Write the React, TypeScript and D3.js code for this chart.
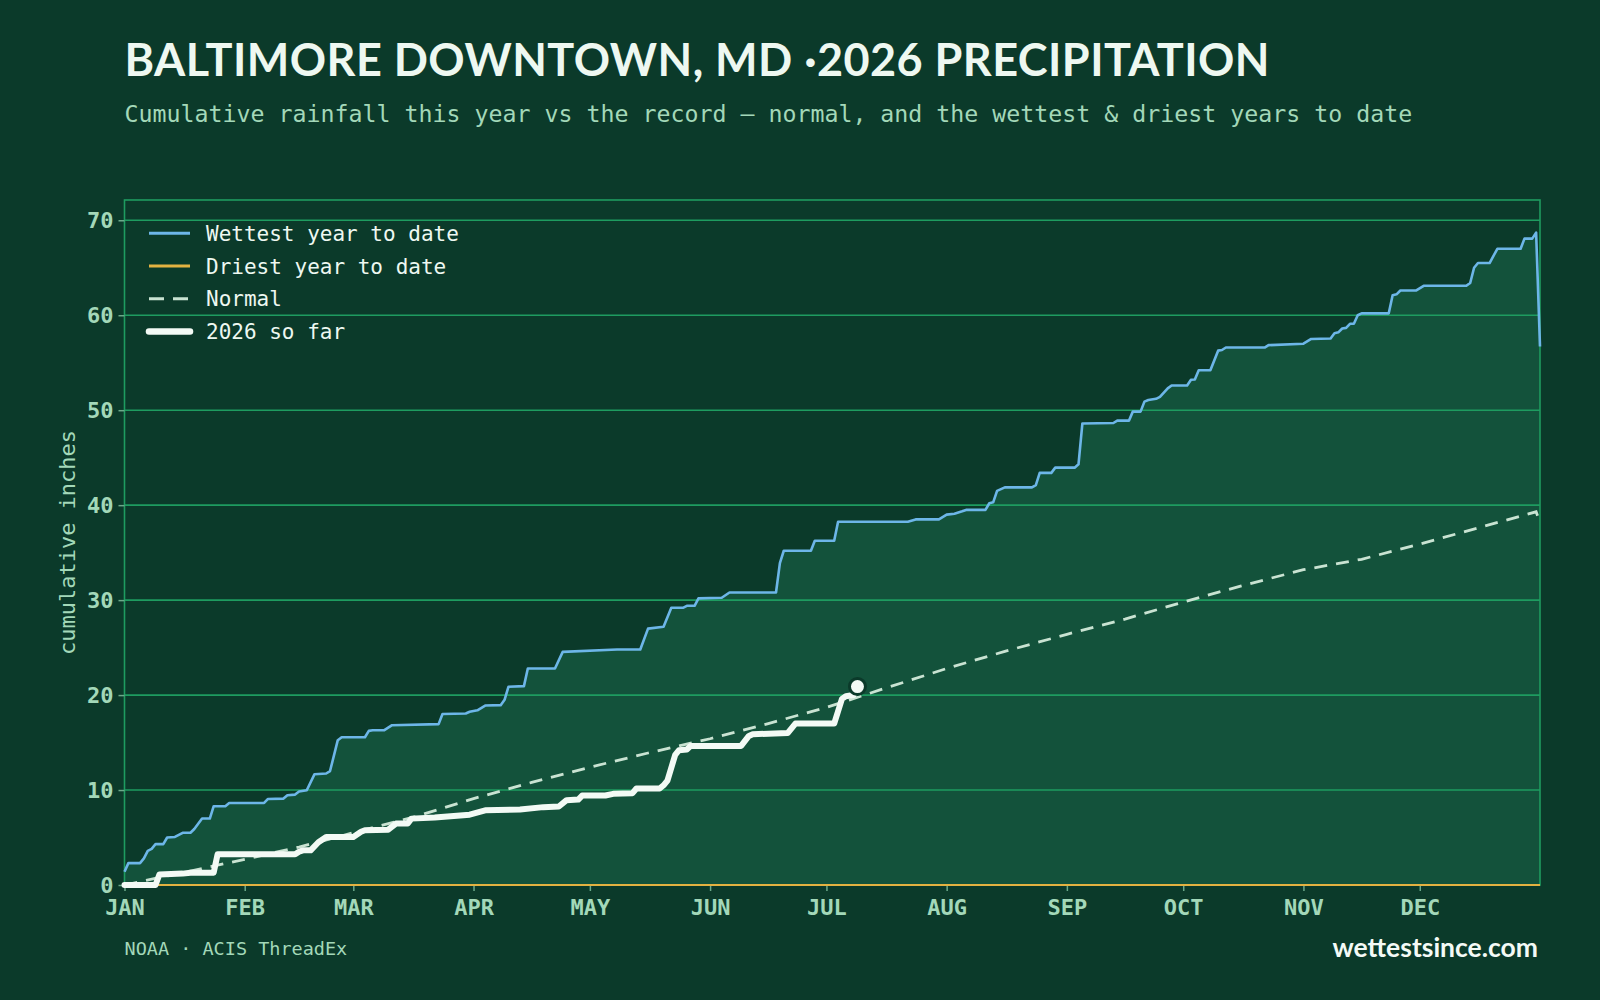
import React, { useRef, useEffect } from 'react';
import * as d3 from 'd3';

const TITLE = 'BALTIMORE DOWNTOWN, MD ·2026 PRECIPITATION';
const SUBTITLE = 'Cumulative rainfall this year vs the record — normal, and the wettest & driest years to date';
const MONTHS = ['JAN', 'FEB', 'MAR', 'APR', 'MAY', 'JUN', 'JUL', 'AUG', 'SEP', 'OCT', 'NOV', 'DEC'];
const Y_TICKS = [0, 10, 20, 30, 40, 50, 60, 70];

// [day of year, cumulative inches]
const wettest: [number, number][] = [
  [0, 1.4], [1, 2.3], [4, 2.3], [5, 2.8], [6, 3.6], [7, 3.8], [8, 4.3], [10, 4.3], [11, 5.0], [13, 5.06],
  [15, 5.5], [17, 5.5], [18, 5.9], [20, 7.0], [22, 7.0], [23, 8.3], [26, 8.3], [27, 8.64], [36, 8.64],
  [37, 9.06], [41, 9.1], [42, 9.45], [44, 9.52], [45, 9.84], [47, 9.98], [49, 11.67], [52, 11.74],
  [53, 12.0], [55, 15.25], [56, 15.56], [62, 15.56], [63, 16.23], [64, 16.3], [67, 16.3], [69, 16.83],
  [81, 16.94], [82, 18.0], [88, 18.06], [89, 18.24], [91, 18.4], [93, 18.9], [97, 18.94], [98, 19.5],
  [99, 20.87], [103, 20.94], [104, 22.8], [111, 22.8], [113, 24.55], [127, 24.8], [133, 24.8], [135, 27.0],
  [139, 27.2], [141, 29.19], [144, 29.19], [145, 29.4], [147, 29.4], [148, 30.18], [154, 30.25],
  [156, 30.8], [168, 30.8], [169, 33.9], [170, 35.2], [177, 35.2], [178, 36.25], [183, 36.25], [184, 38.25],
  [202, 38.25], [204, 38.5], [210, 38.5], [212, 39.0], [214, 39.1], [216, 39.35], [217, 39.5], [222, 39.5],
  [223, 40.2], [224, 40.3], [225, 41.5], [227, 41.87], [234, 41.87], [235, 42.1], [236, 43.4], [239, 43.4],
  [240, 43.95], [245, 43.95], [246, 44.3], [247, 48.6], [255, 48.65], [256, 48.9], [259, 48.9],
  [260, 49.85], [262, 49.85], [263, 50.9], [264, 51.07], [266, 51.2], [267, 51.4], [269, 52.3],
  [270, 52.6], [274, 52.6], [275, 53.2], [276, 53.24], [277, 54.2], [280, 54.2], [282, 56.27],
  [283, 56.34], [284, 56.6], [294, 56.6], [295, 56.85], [304, 57.0], [306, 57.5], [311, 57.55],
  [312, 58.1], [313, 58.2], [314, 58.6], [315, 58.67], [316, 59.1], [317, 59.1], [318, 60.0], [319, 60.2],
  [326, 60.2], [327, 62.1], [328, 62.2], [329, 62.6], [333, 62.6], [335, 63.1], [346, 63.1], [347, 63.4],
  [348, 65.0], [349, 65.5], [352, 65.5], [354, 67.0], [360, 67.0], [361, 68.07], [363, 68.07],
  [364, 68.7], [365, 56.7],
];

const normal: [number, number][] = [
  [0, 0], [15, 1.3], [31, 2.7], [45, 4.0], [59, 5.5], [75, 7.2], [90, 9.1], [105, 10.8], [120, 12.4],
  [135, 13.9], [151, 15.4], [166, 17.0], [181, 18.7], [196, 20.7], [212, 22.8], [227, 24.6], [243, 26.4],
  [258, 28.0], [273, 29.8], [288, 31.5], [304, 33.2], [319, 34.3], [334, 35.9], [349, 37.6], [364, 39.3],
  [365, 38.2],
];

const driest: [number, number][] = [[0, 0], [365, 0]];

const year2026: [number, number][] = [
  [0, 0], [8, 0], [9, 1.1], [15, 1.2], [17, 1.3], [23, 1.3], [24, 3.23], [44, 3.23], [45, 3.5],
  [46, 3.65], [48, 3.65], [50, 4.5], [52, 5.06], [59, 5.06], [61, 5.6], [62, 5.76], [68, 5.83],
  [70, 6.47], [73, 6.47], [74, 6.99], [80, 7.1], [89, 7.4], [93, 7.86], [102, 7.94], [108, 8.2],
  [112, 8.27], [114, 8.93], [117, 9.0], [118, 9.42], [124, 9.42], [126, 9.6], [131, 9.67], [132, 10.16],
  [138, 10.16], [139, 10.5], [140, 11.0], [142, 13.7], [143, 14.2], [145, 14.27], [146, 14.65],
  [159, 14.65], [161, 15.7], [162, 15.88], [171, 16.0], [173, 17.0], [183, 17.0], [185, 19.6],
  [186, 19.88], [188, 20.0], [189, 20.9],
];

const LEGEND = [
  { label: 'Wettest year to date', color: '#6db6e8', width: 3, dash: null },
  { label: 'Driest year to date', color: '#e3b241', width: 3, dash: null },
  { label: 'Normal', color: '#c9e3d2', width: 3, dash: '15 9' },
  { label: '2026 so far', color: '#f3faf5', width: 6.5, dash: null },
];

const BG = '#0b3a2a';
const FILL = '#13523b';
const GRID = '#1e9c60';
const MINT = '#a3d8b9';
const MONO = '"DejaVu Sans Mono", monospace';
const SANS = 'Lato, "Open Sans", sans-serif';

function App() {
  const svgRef = useRef(null);

  useEffect(() => {
    document.body.style.margin = '0';
    const width = 1600, height = 1000;
    const plot = { left: 124.5, top: 200, right: 1540, bottom: 885 };

    const svg = d3.select(svgRef.current);
    svg.selectAll('*').remove();

    svg.append('rect').attr('width', width).attr('height', height).attr('fill', BG);

    svg.append('text')
      .attr('x', plot.left).attr('y', 76)
      .attr('fill', '#eef8f1')
      .style('font-family', SANS).style('font-weight', 700).style('font-size', '45px')
      .style('letter-spacing', '0.45px')
      .text(TITLE);

    svg.append('text')
      .attr('x', plot.left).attr('y', 121.5)
      .attr('fill', MINT)
      .style('font-family', MONO).style('font-size', '23.25px')
      .text(SUBTITLE);

    const yMax = d3.max(wettest, d => d[1]) * 1.05;
    const x = d3.scaleLinear().domain([0, 365]).range([plot.left, plot.right]);
    const y = d3.scaleLinear().domain([0, yMax]).range([plot.bottom, plot.top]);

    // area under the wettest year
    const area = d3.area().x(d => x(d[0])).y0(y(0)).y1(d => y(d[1]));
    svg.append('path').datum(wettest).attr('d', area).attr('fill', FILL);

    // horizontal grid
    svg.append('g').selectAll('line').data(Y_TICKS).enter().append('line')
      .attr('x1', plot.left).attr('x2', plot.right)
      .attr('y1', d => y(d)).attr('y2', d => y(d))
      .attr('stroke', GRID).attr('stroke-width', 1.6);

    svg.append('rect')
      .attr('x', plot.left).attr('y', plot.top)
      .attr('width', plot.right - plot.left).attr('height', plot.bottom - plot.top)
      .attr('fill', 'none').attr('stroke', GRID).attr('stroke-width', 1.6);

    // axes
    const yAxis = svg.append('g')
      .attr('transform', `translate(${plot.left},0)`)
      .call(d3.axisLeft(y).tickValues(Y_TICKS).tickSize(6).tickPadding(5));
    yAxis.select('.domain').remove();
    yAxis.selectAll('line').attr('stroke', '#6aa98a').attr('stroke-width', 1.5);
    yAxis.selectAll('text')
      .attr('fill', MINT)
      .style('font-family', MONO).style('font-weight', 700).style('font-size', '22px');

    const start = new Date(2026, 0, 1);
    const monthDays = d3.timeMonth.range(start, new Date(2027, 0, 1)).map(m => d3.timeDay.count(start, m));
    const xAxis = svg.append('g')
      .attr('transform', `translate(0,${plot.bottom})`)
      .call(d3.axisBottom(x).tickValues(monthDays).tickFormat((d, i) => MONTHS[i]).tickSize(6).tickPadding(8));
    xAxis.select('.domain').remove();
    xAxis.selectAll('line').attr('stroke', '#6aa98a').attr('stroke-width', 1.5);
    xAxis.selectAll('text')
      .attr('fill', MINT)
      .style('font-family', MONO).style('font-weight', 700).style('font-size', '22px');

    svg.append('text')
      .attr('transform', `translate(75,${(plot.top + plot.bottom) / 2}) rotate(-90)`)
      .attr('text-anchor', 'middle')
      .attr('fill', MINT)
      .style('font-family', MONO).style('font-size', '22px')
      .text('cumulative inches');

    // series
    const line = d3.line().x(d => x(d[0])).y(d => y(d[1]));

    svg.append('path').datum(normal).attr('d', line)
      .attr('fill', 'none').attr('stroke', LEGEND[2].color).attr('stroke-width', 2.8)
      .attr('stroke-dasharray', '13 9');

    svg.append('path').datum(wettest).attr('d', line)
      .attr('fill', 'none').attr('stroke', LEGEND[0].color).attr('stroke-width', 2.6)
      .attr('stroke-linejoin', 'round');

    svg.append('path').datum(driest).attr('d', line)
      .attr('fill', 'none').attr('stroke', LEGEND[1].color).attr('stroke-width', 2);

    svg.append('path').datum(year2026).attr('d', line)
      .attr('fill', 'none').attr('stroke', LEGEND[3].color).attr('stroke-width', 6)
      .attr('stroke-linejoin', 'round').attr('stroke-linecap', 'round');

    const last = year2026[year2026.length - 1];
    svg.append('circle')
      .attr('cx', x(last[0])).attr('cy', y(last[1])).attr('r', 8)
      .attr('fill', '#f3faf5').attr('stroke', BG).attr('stroke-width', 3);

    // legend
    const legend = svg.append('g');
    LEGEND.forEach((item, i) => {
      const ly = 233.3 + i * 32.7;
      legend.append('line')
        .attr('x1', 149).attr('x2', 190).attr('y1', ly).attr('y2', ly)
        .attr('stroke', item.color).attr('stroke-width', item.width)
        .attr('stroke-linecap', i === 3 ? 'round' : 'butt')
        .attr('stroke-dasharray', item.dash);
      legend.append('text')
        .attr('x', 206).attr('y', ly + 7.7)
        .attr('fill', '#eef8f1')
        .style('font-family', MONO).style('font-size', '21px')
        .text(item.label);
    });

    // footer
    svg.append('text')
      .attr('x', plot.left).attr('y', 955)
      .attr('fill', MINT)
      .style('font-family', MONO).style('font-size', '18.5px')
      .text('NOAA · ACIS ThreadEx');

    svg.append('text')
      .attr('x', 1538).attr('y', 957).attr('text-anchor', 'end')
      .attr('fill', '#f4faf6')
      .style('font-family', SANS).style('font-weight', 700).style('font-size', '26.5px')
      .text('wettestsince.com');
  }, []);

  return <svg ref={svgRef} width={1600} height={1000} style={{ display: 'block' }} />;
}

export default App;
